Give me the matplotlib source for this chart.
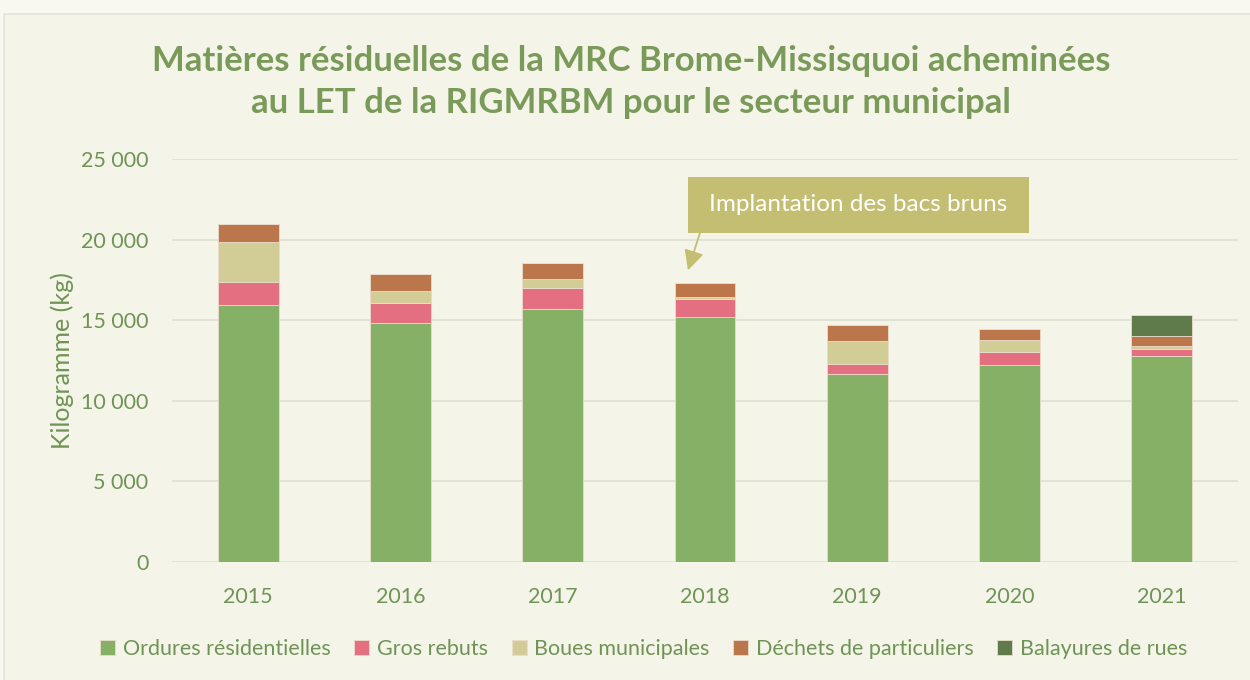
import matplotlib.pyplot as plt
import numpy as np
from matplotlib.patches import Rectangle
from matplotlib.ticker import FuncFormatter

plt.rcParams["font.family"] = ["Lato", "DejaVu Sans"]

# Data (kg)
years = ["2015", "2016", "2017", "2018", "2019", "2020", "2021"]
ordures = [15960, 14840, 15710, 15180, 11660, 12220, 12780]
gros_rebuts = [1430, 1230, 1290, 1150, 640, 830, 450]
boues = [2480, 720, 570, 110, 1390, 740, 170]
dechets = [1080, 1060, 960, 890, 990, 660, 620]
balayures = [0, 0, 0, 0, 0, 0, 1300]

series = [
    ("Ordures résidentielles", ordures, "#86b066"),
    ("Gros rebuts", gros_rebuts, "#e36f80"),
    ("Boues municipales", boues, "#d2cd96"),
    ("Déchets de particuliers", dechets, "#bb774b"),
    ("Balayures de rues", balayures, "#5f7a4b"),
]

bg = "#f4f4e8"
txt_green = "#6f9455"
note_color = "#c3be72"

fig = plt.figure(figsize=(12.5, 6.8), dpi=100, facecolor="#f8f8f1")
fig.patches.append(Rectangle((0.003, -0.01), 1.0, 0.99, transform=fig.transFigure,
                             facecolor=bg, edgecolor="#dfe5d6", lw=1.2, zorder=-1))
ax = fig.add_axes([0.1376, 0.1735, 0.8528, 0.5927])
ax.set_facecolor("none")

x = np.arange(len(years))
bottom = np.zeros(len(years))
for name, vals, color in series:
    vals = np.array(vals, dtype=float)
    ax.bar(x, vals, 0.4, bottom=bottom, color=color, label=name,
           edgecolor="#eadccb", linewidth=0.6, zorder=3)
    bottom += vals

ax.set_xlim(-0.5, 6.5)
ax.set_ylim(0, 25000)
ax.set_yticks(np.arange(0, 25001, 5000))
ax.yaxis.set_major_formatter(FuncFormatter(lambda v, p: f"{int(v):,}".replace(",", " ")))
ax.set_xticks(x)
ax.set_xticklabels(years)
ax.grid(axis="y", color="#dde3d3", lw=1.3, zorder=0)
for s in ax.spines.values():
    s.set_visible(False)
ax.tick_params(length=0, labelsize=15.5, labelcolor=txt_green)
ax.tick_params(axis="y", pad=17)
ax.tick_params(axis="x", pad=18)
ax.set_ylabel("Kilogramme (kg)", fontsize=18, color=txt_green, labelpad=5)

title_kw = dict(ha="center", va="center", fontsize=25, fontweight="bold", color="#7a9a5a")
fig.text(0.505, 0.911, "Matières résiduelles de la MRC Brome-Missisquoi acheminées", **title_kw)
fig.text(0.505, 0.848, "au LET de la RIGMRBM pour le secteur municipal", **title_kw)

# annotation box + arrow
ax.add_patch(Rectangle((2.888, 20410), 2.239, 3470, facecolor=note_color,
                       edgecolor="none", zorder=5))
ax.text(4.007, 22150, "Implantation des bacs bruns", ha="center", va="center",
        fontsize=17.5, color="white", zorder=6)
ax.annotate("", xy=(2.888, 18100), xytext=(2.967, 20410),
            arrowprops=dict(arrowstyle="-|>", color=note_color, lw=1.3, mutation_scale=30,
                            shrinkA=0, shrinkB=0),
            zorder=5)

leg = fig.legend(loc="center", bbox_to_anchor=(0.515, 0.045), ncol=5, frameon=False,
                 fontsize=15.5, handlelength=0.7, handleheight=0.7, handletextpad=0.35,
                 columnspacing=1.1)
for t in leg.get_texts():
    t.set_color(txt_green)

fig.savefig("out.png", dpi=100, facecolor=fig.get_facecolor())
